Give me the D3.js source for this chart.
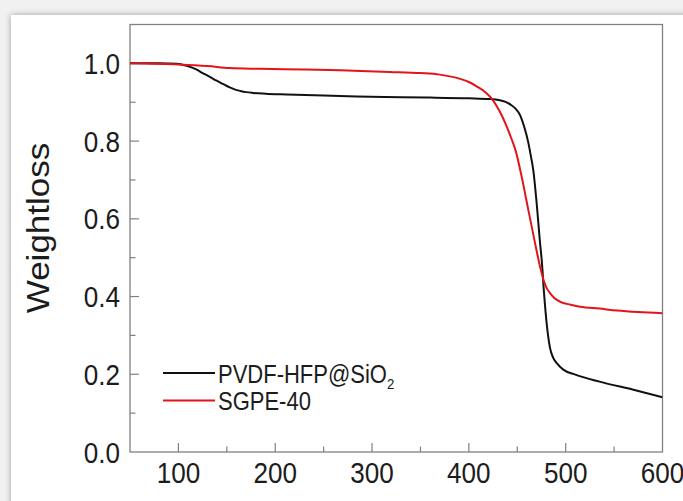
<!DOCTYPE html>
<html>
<head>
<meta charset="utf-8">
<script src="https://cdn.jsdelivr.net/npm/d3@7/dist/d3.min.js"></script>
<style>
  html, body { margin: 0; padding: 0; background: #f1f1f1; }
  svg { display: block; }
  text { font-family: "Liberation Sans", Arial, sans-serif; fill: #1c1c1c; }
</style>
</head>
<body>
<svg id="chart" width="683" height="501"></svg>
<script>
// Temperature (°C) and residual weight fraction for each sample
const pvdfTemp = [50, 80, 98, 105, 112, 119, 125, 132, 139, 146, 153, 158, 164, 170, 177, 190, 212, 250, 284, 330, 360, 400, 422, 432, 438, 443, 448, 453, 457, 461.4, 464, 466.5, 470, 473.5, 475.2, 477.6, 480.3, 483.8, 487, 491, 497.5, 510, 535, 570, 600];
const pvdfWeight = [1.0, 1.0, 0.999, 0.996, 0.991, 0.984, 0.975, 0.966, 0.956, 0.947, 0.938, 0.933, 0.929, 0.926, 0.924, 0.922, 0.920, 0.917, 0.915, 0.913, 0.912, 0.910, 0.908, 0.905, 0.901, 0.894, 0.884, 0.866, 0.838, 0.796, 0.762, 0.726, 0.641, 0.538, 0.495, 0.410, 0.332, 0.268, 0.243, 0.228, 0.212, 0.199, 0.181, 0.160, 0.141];

const sgpeTemp = [50, 100, 130, 153, 184, 230, 267, 318, 350, 370, 391, 400, 408, 418, 424, 429, 434, 439, 444, 448, 454.5, 461.4, 468.3, 473.5, 477.6, 480.5, 483.8, 488, 494, 505, 515, 535, 553, 575, 600];
const sgpeWeight = [1.0, 0.997, 0.993, 0.988, 0.986, 0.984, 0.982, 0.978, 0.975, 0.971, 0.960, 0.952, 0.941, 0.924, 0.908, 0.889, 0.866, 0.838, 0.806, 0.778, 0.709, 0.623, 0.538, 0.477, 0.439, 0.421, 0.409, 0.397, 0.387, 0.379, 0.374, 0.369, 0.364, 0.360, 0.357];

const xTicks = [100, 200, 300, 400, 500, 600];
const yTicks = [0.0, 0.2, 0.4, 0.6, 0.8, 1.0];
const seriesNames = ["PVDF-HFP@SiO", "SGPE-40"];
const seriesColors = ["#111111", "#e3151b"];

const svg = d3.select("#chart");

// Card with soft drop shadow
const defs = svg.append("defs");
const shadow = defs.append("filter").attr("id", "shadow")
  .attr("x", "-10%").attr("y", "-10%").attr("width", "120%").attr("height", "120%");
shadow.append("feGaussianBlur").attr("in", "SourceAlpha").attr("stdDeviation", 3);
shadow.append("feOffset").attr("dx", 0).attr("dy", 0).attr("result", "b");
shadow.append("feComponentTransfer").append("feFuncA").attr("type", "linear").attr("slope", 0.35);
const merge = shadow.append("feMerge");
merge.append("feMergeNode");
merge.append("feMergeNode").attr("in", "SourceGraphic");

svg.append("rect").attr("x", 11).attr("y", 15).attr("width", 700).attr("height", 520)
  .attr("fill", "#ffffff").attr("filter", "url(#shadow)");

const plotL = 130, plotR = 662.5, plotT = 24.5, plotB = 452;
const x = d3.scaleLinear().domain([50, 600]).range([plotL, plotR]);
const y = d3.scaleLinear().domain([0, 1.1]).range([plotB, plotT]);

const axisColor = "#808080";
const g = svg.append("g");

// Plot frame
g.append("rect").attr("x", plotL).attr("y", plotT)
  .attr("width", plotR - plotL).attr("height", plotB - plotT)
  .attr("fill", "none").attr("stroke", axisColor).attr("stroke-width", 1.3);

// Inward ticks on bottom and left axes
const xMinor = d3.range(150, 600, 100);
const yMinor = [0.1, 0.3, 0.5, 0.7, 0.9];

g.selectAll(".xt").data(xTicks.filter(d => d < 600)).join("line")
  .attr("x1", d => x(d)).attr("x2", d => x(d))
  .attr("y1", plotB).attr("y2", plotB - 9)
  .attr("stroke", axisColor).attr("stroke-width", 1.2);
g.selectAll(".xm").data(xMinor).join("line")
  .attr("x1", d => x(d)).attr("x2", d => x(d))
  .attr("y1", plotB).attr("y2", plotB - 5.5)
  .attr("stroke", axisColor).attr("stroke-width", 1.2);
g.selectAll(".yt").data(yTicks.filter(d => d > 0)).join("line")
  .attr("x1", plotL).attr("x2", plotL + 9)
  .attr("y1", d => y(d)).attr("y2", d => y(d))
  .attr("stroke", axisColor).attr("stroke-width", 1.2);
g.selectAll(".ym").data(yMinor).join("line")
  .attr("x1", plotL).attr("x2", plotL + 5.5)
  .attr("y1", d => y(d)).attr("y2", d => y(d))
  .attr("stroke", axisColor).attr("stroke-width", 1.2);

// Tick labels
g.selectAll(".xl").data(xTicks).join("text")
  .attr("transform", d => `translate(${x(d)},483) scale(0.9,1)`)
  .attr("text-anchor", "middle")
  .style("font-size", "29px")
  .text(d => d);
g.selectAll(".yl").data(yTicks).join("text")
  .attr("transform", d => `translate(120,${y(d) + 10.5}) scale(0.9,1)`)
  .attr("text-anchor", "end")
  .style("font-size", "29px")
  .text(d => d.toFixed(1));

// Y axis title
svg.append("text")
  .attr("transform", "translate(49,228) scale(0.88,1) rotate(-90)")
  .attr("text-anchor", "middle")
  .style("font-size", "35px")
  .text("Weightloss");

// Curves
const line = d3.line().x(d => x(d[0])).y(d => y(d[1])).curve(d3.curveMonotoneX);
const series = [
  d3.zip(pvdfTemp, pvdfWeight),
  d3.zip(sgpeTemp, sgpeWeight)
];
const clip = defs.append("clipPath").attr("id", "plotclip");
clip.append("rect").attr("x", plotL).attr("y", plotT).attr("width", plotR - plotL).attr("height", plotB - plotT);

svg.append("g").attr("clip-path", "url(#plotclip)")
  .selectAll("path").data(series).join("path")
  .attr("d", line)
  .attr("fill", "none")
  .attr("stroke", (d, i) => seriesColors[i])
  .attr("stroke-width", 2)
  .attr("stroke-linejoin", "round");

// Legend
const legY = [373, 400.5];
const leg = svg.append("g");
leg.selectAll("line").data(seriesNames).join("line")
  .attr("x1", 163).attr("x2", 215)
  .attr("y1", (d, i) => legY[i]).attr("y2", (d, i) => legY[i])
  .attr("stroke", (d, i) => seriesColors[i]).attr("stroke-width", 2);
const lt = leg.selectAll("text").data(seriesNames).join("text")
  .attr("transform", (d, i) => `translate(218,${legY[i] + 9.5}) scale(0.88,1)`)
  .style("font-size", "25px");
lt.append("tspan").text(d => d);
lt.filter((d, i) => i === 0).append("tspan")
  .attr("dy", 6).style("font-size", "15px").text("2");
</script>
</body>
</html>
